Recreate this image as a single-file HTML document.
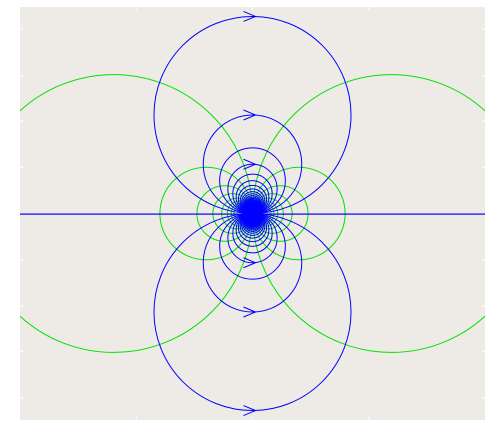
<!DOCTYPE html>
<html><head><meta charset="utf-8"><style>
html,body{margin:0;padding:0;background:#fff;width:504px;height:446px;overflow:hidden}
svg{display:block}
</style></head><body>
<svg id="chart" width="504" height="446" xmlns="http://www.w3.org/2000/svg">
<defs><clipPath id="clip"><rect x="20" y="7" width="465" height="413"/></clipPath></defs>
<rect x="20" y="7" width="465" height="413" fill="#eeebe6"/>
<g id="ticks"></g>
<g id="marks" clip-path="url(#clip)"></g>
</svg>
<script>
// data: field line indices (radius = base / index)
const fieldLineIdx = [1,2,3,4,5,6,7,8,9,10,11,12,13,14,15,16,17,18,19,20,22,24,26,28,30,33,36,40,45,50];
const equipotentialIdx = [1,3,5,7,9,11,13,15];
const arrowIdx = [1,2,4];
const xTicks = [-1.18,0,1.18];
const yTicks = [-1.87,-1.4,-0.94,-0.47,0.47,0.94,1.4,1.87];
const fieldBase = 1.0;
const potBase = 1.41;

const X0=20,X1=485,Y0=7,Y1=420;
const xMin=-2.36,xMax=2.36,yMin=-2.096,yMax=2.096;
const xs=v=>X0+(v-xMin)/(xMax-xMin)*(X1-X0);
const ys=v=>Y1-(v-yMin)/(yMax-yMin)*(Y1-Y0);
const NS='http://www.w3.org/2000/svg';
const marks=document.getElementById('marks');
const ticks=document.getElementById('ticks');
function mk(tag,attrs,parent){const e=document.createElementNS(NS,tag);for(const k in attrs)e.setAttribute(k,attrs[k]);parent.appendChild(e);return e;}

// equipotential circles (green)
equipotentialIdx.forEach(k=>{
  const r=potBase/k;
  [-1,1].forEach(s=>{
    const c=mk('ellipse',{cx:xs(s*r),cy:ys(0),rx:xs(r)-xs(0),ry:ys(0)-ys(r),fill:'none',stroke:'#00e000','stroke-width':1},marks);
    
    
  });
});
// field line circles (blue)
fieldLineIdx.forEach(k=>{
  const r=fieldBase/k;
  [-1,1].forEach(s=>{
    const c=mk('ellipse',{cx:xs(0),cy:ys(s*r),rx:xs(r)-xs(0),ry:ys(0)-ys(r),fill:'none',stroke:'#0000ff','stroke-width':1},marks);
    
    
  });
});
// dense core
let core=mk('circle',{cx:xs(0),cy:ys(0),r:10,fill:'#0000ff'},marks);


// horizontal axis field line
let hl=mk('rect',{x:X0,width:X1-X0,y:Math.round(ys(0))-0.5,height:1.2,fill:'#0000ff'},marks);


// arrows
arrowIdx.forEach(k=>{
  const r=fieldBase/k;
  [1,-1].forEach(s=>{
    const x=xs(0)+3,y=ys(s*2*r);
    const p=mk('path',{d:`M${x-12},${y-5} L${x},${y} L${x-12},${y+5}`,fill:'none',stroke:'#0000ff','stroke-width':1},marks);
    
    
  });
});
// ticks
xTicks.forEach(v=>{
  const x=xs(v);
  [[Y1,Y1-3],[Y0,Y0+3]].forEach(([a,b])=>{
    const t=mk('line',{x1:x,x2:x,y1:a,y2:b,stroke:'#fff','stroke-width':1},ticks);
    
    
  });
});
yTicks.forEach(v=>{
  const y=ys(v);
  [[X0,X0+3],[X1,X1-3]].forEach(([a,b])=>{
    const t=mk('line',{x1:a,x2:b,y1:y,y2:y,stroke:'#fff','stroke-width':1},ticks);
    
    
  });
});
</script>
</body></html>
